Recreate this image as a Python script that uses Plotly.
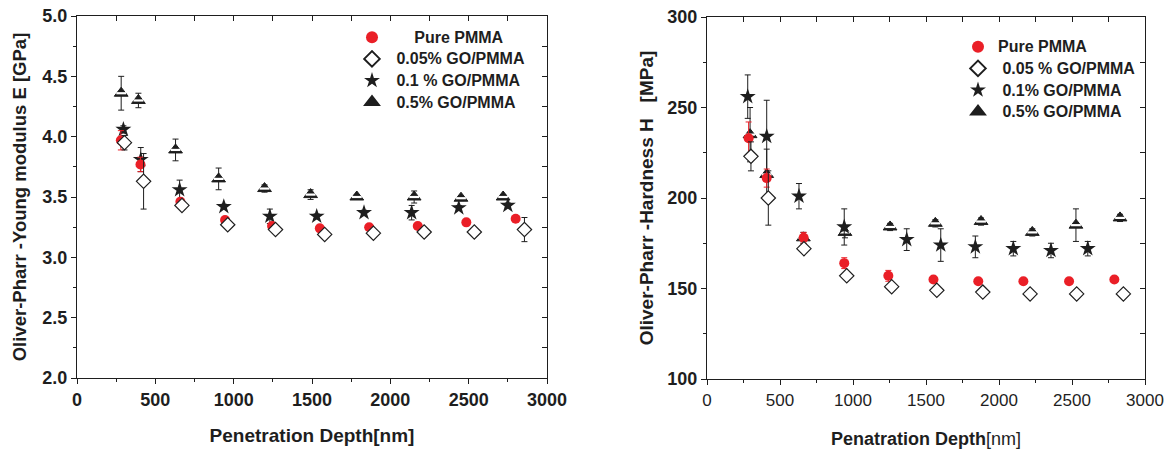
import plotly.graph_objects as go

# ---------------- data: left panel (Young modulus, GPa) ----------------
E_pure_x = [280, 405, 660, 945, 1245, 1550, 1865, 2175, 2485, 2800]
E_pure_y = [3.97, 3.77, 3.46, 3.31, 3.26, 3.24, 3.25, 3.26, 3.29, 3.32]
E_pure_e = [0.08, 0.06, 0.03, 0.02, 0.02, 0.02, 0.02, 0.02, 0.02, 0.02]

E_005_x = [303, 425, 670, 962, 1267, 1581, 1892, 2216, 2536, 2856]
E_005_y = [3.95, 3.63, 3.43, 3.27, 3.23, 3.19, 3.20, 3.21, 3.21, 3.23]
E_005_e = [0.06, 0.23, 0.03, 0.02, 0.03, 0.02, 0.03, 0.02, 0.02, 0.10]

E_01_x = [296, 407, 655, 937, 1231, 1530, 1832, 2136, 2437, 2750]
E_01_y = [4.06, 3.81, 3.56, 3.42, 3.34, 3.34, 3.37, 3.37, 3.41, 3.43]
E_01_e = [0.03, 0.10, 0.08, 0.02, 0.06, 0.02, 0.02, 0.06, 0.02, 0.02]

E_05_x = [282, 392, 629, 904, 1197, 1491, 1786, 2152, 2451, 2720]
E_05_y = [4.36, 4.30, 3.89, 3.65, 3.57, 3.52, 3.50, 3.50, 3.49, 3.50]
E_05_e = [0.14, 0.06, 0.09, 0.09, 0.03, 0.04, 0.02, 0.05, 0.02, 0.02]

# ---------------- data: right panel (Hardness, MPa) ----------------
H_pure_x = [285, 409, 662, 940, 1242, 1551, 1858, 2167, 2480, 2790]
H_pure_y = [233, 211, 178, 164, 157, 155, 154, 154, 154, 155]
H_pure_e = [9, 5, 3, 3, 3, 1, 1, 1, 1, 1]

H_005_x = [301, 420, 664, 957, 1265, 1574, 1889, 2213, 2532, 2852]
H_005_y = [223, 200, 172, 157, 151, 149, 148, 147, 147, 147]
H_005_e = [8, 15, 2, 2, 2, 1, 1, 1, 1, 1]

H_01_x = [279, 409, 630, 940, 1368, 1601, 1838, 2098, 2356, 2608]
H_01_y = [256, 234, 201, 184, 177, 174, 173, 172, 171, 172]
H_01_e = [12, 20, 7, 10, 6, 9, 6, 4, 4, 4]

H_05_x = [295, 409, 660, 945, 1254, 1564, 1877, 2228, 2527, 2829]
H_05_y = [235, 213, 178, 181, 184, 186, 187, 181, 185, 189]
H_05_e = [15, 14, 3, 3, 2, 2, 2, 2, 9, 2]

left_names = ["Pure PMMA", "0.05% GO/PMMA", "0.1 % GO/PMMA", "0.5% GO/PMMA"]
right_names = ["Pure PMMA", "0.05 % GO/PMMA", "0.1% GO/PMMA", "0.5% GO/PMMA"]

RED = "#ea1f27"
NB = "\u00a0"
FONT = "Liberation Sans, Arial, sans-serif"
INK = "#1e1e1e"

styles = [
    dict(symbol="circle", color=RED, line=dict(color=RED, width=0), size=10),
    dict(symbol="diamond", color="white", line=dict(color=INK, width=1.2), size=11),
    dict(symbol="star", color=INK, line=dict(color=INK, width=0), size=12),
    dict(symbol="triangle-up", color=INK, line=dict(color=INK, width=1), size=12),
]
err_colors = [RED, INK, INK, INK]

fig = go.Figure()

left_sets = [(E_pure_x, E_pure_y, E_pure_e), (E_005_x, E_005_y, E_005_e),
             (E_01_x, E_01_y, E_01_e), (E_05_x, E_05_y, E_05_e)]
right_sets = [(H_pure_x, H_pure_y, H_pure_e), (H_005_x, H_005_y, H_005_e),
              (H_01_x, H_01_y, H_01_e), (H_05_x, H_05_y, H_05_e)]


def big(s):
    return '<span style="font-size:16px">' + s + "</span>"


left_labels = [big(NB * 5 + left_names[0]), big(NB + left_names[1]), big(NB + left_names[2]),
               big(NB + left_names[3])]
right_labels = [big(right_names[0]), big(NB + right_names[1]), big(NB + right_names[2]),
                big(NB + right_names[3])]

draw_order = [3, 2, 0, 1]


def add_panel(sets, labels, legend, xa, ya):
    for i in draw_order:
        xs, ys, es = sets[i]
        fig.add_trace(go.Scatter(
            x=xs, y=ys, mode="markers", name=labels[i], legend=legend,
            legendrank=i, marker=styles[i],
            error_y=dict(type="data", array=es, visible=True, color=err_colors[i],
                         thickness=1, width=3),
            xaxis=xa, yaxis=ya))
        if i == 3:
            # white band inside the half-filled triangle symbol
            fig.add_trace(go.Scatter(
                x=xs, y=ys, mode="markers", showlegend=False, hoverinfo="skip",
                marker=dict(symbol="line-ew-open", size=7, color="white",
                            line=dict(color="white", width=2.2)),
                xaxis=xa, yaxis=ya))


add_panel(left_sets, left_labels, "legend", "x", "y")
add_panel(right_sets, right_labels, "legend2", "x2", "y2")

# dummy traces for mirrored inward-tick axes (top / right frames)
fig.add_trace(go.Scatter(x=[None], y=[None], xaxis="x3", yaxis="y3", showlegend=False))
fig.add_trace(go.Scatter(x=[None], y=[None], xaxis="x4", yaxis="y4", showlegend=False))

W, H = 1175, 452
ybot, ytop = 1 - 378 / H, 1 - 16 / H
ybot2, ytop2 = 1 - 379 / H, 1 - 17 / H
dxL = [77 / W, 547 / W]
dxR = [707 / W, 1145 / W]

bold_tick = dict(family=FONT, size=18, color=INK, weight=700)
reg_tick = dict(family=FONT, size=17, color=INK)

common = dict(showgrid=False, zeroline=False, showline=True, linecolor=INK, linewidth=1.2,
              ticks="outside", ticklen=5, tickcolor=INK, tickwidth=1, automargin=False)
mirror = dict(showticklabels=False, showgrid=False, zeroline=False, showline=True,
              linecolor=INK, linewidth=1.2, ticks="inside", ticklen=5, tickcolor=INK,
              automargin=False)

fig.update_layout(
    template="none",
    width=W, height=H, margin=dict(l=0, r=0, t=0, b=0, autoexpand=False),
    paper_bgcolor="white", plot_bgcolor="white",
    xaxis=dict(domain=dxL, range=[0, 3000], dtick=500, anchor="y", tickfont=bold_tick,
               minor=dict(dtick=250, ticks="outside", ticklen=3, tickcolor=INK),
               title=dict(text="Penetration Depth[nm]",
                          font=dict(family=FONT, size=19, color=INK, weight=700), standoff=19),
               **common),
    yaxis=dict(domain=[ybot, ytop], range=[2.0, 5.0], dtick=0.5, tickformat=".1f", anchor="x",
               tickfont=bold_tick,
               minor=dict(dtick=0.25, ticks="outside", ticklen=3, tickcolor=INK),
               title=dict(text="Oliver-Pharr -Young modulus E [GPa]",
                          font=dict(family=FONT, size=18.5, color=INK, weight=700), standoff=10),
               **common),
    xaxis2=dict(domain=dxR, range=[0, 3000], dtick=500, anchor="y2", tickfont=reg_tick,
                minor=dict(dtick=250, ticks="outside", ticklen=3, tickcolor=INK),
                title=dict(text="<b>Penatration Depth</b>[nm]",
                           font=dict(family=FONT, size=18, color=INK), standoff=23),
                **common),
    yaxis2=dict(domain=[ybot2, ytop2], range=[100, 300], dtick=50, anchor="x2", tickfont=bold_tick,
                minor=dict(dtick=25, ticks="outside", ticklen=3, tickcolor=INK),
                title=dict(text="Oliver-Pharr -Hardness H" + NB * 3 + "[MPa]",
                           font=dict(family=FONT, size=19, color=INK, weight=700), standoff=8),
                **common),
    xaxis3=dict(overlaying="x", side="top", range=[0, 3000], dtick=250, anchor="y3", **mirror),
    yaxis3=dict(overlaying="y", side="right", range=[2.0, 5.0], dtick=0.25, anchor="x3", **mirror),
    xaxis4=dict(overlaying="x2", side="top", range=[0, 3000], dtick=250, anchor="y4", **mirror),
    yaxis4=dict(overlaying="y2", side="right", range=[100, 300], dtick=25, anchor="x4", **mirror),
    legend=dict(x=352 / W, y=1 - 21.5 / H, xanchor="left", yanchor="top", bgcolor="rgba(0,0,0,0)",
                font=dict(family=FONT, size=14.3, color=INK, weight=700), tracegroupgap=0,
                itemsizing="constant", borderwidth=0),
    legend2=dict(x=958 / W, y=1 - 31 / H, xanchor="left", yanchor="top", bgcolor="rgba(0,0,0,0)",
                 font=dict(family=FONT, size=14.3, color=INK, weight=700), tracegroupgap=0,
                 itemsizing="constant", borderwidth=0),
    showlegend=True,
)

fig.write_html("out.html", config={"displayModeBar": False},
               post_script="document.body.style.margin='0';")
